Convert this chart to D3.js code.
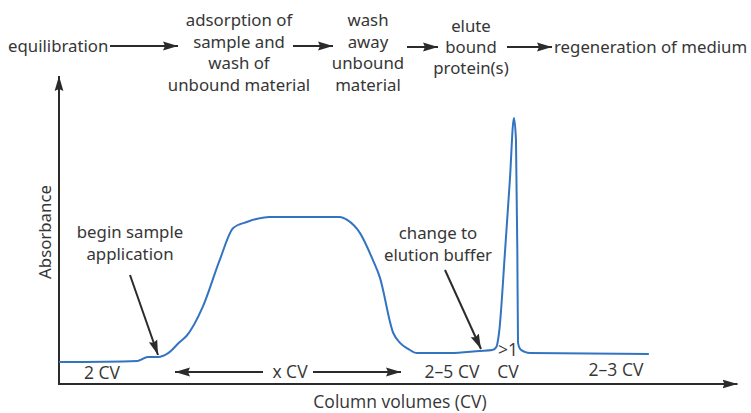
<!DOCTYPE html>
<html>
<head>
<meta charset="utf-8">
<script src="https://cdn.jsdelivr.net/npm/d3@7"></script>
<style>
  html, body { margin: 0; padding: 0; background: #fff; }
  svg { display: block; }
</style>
</head>
<body>
<svg id="chart" width="751" height="413"></svg>
<script>
// Affinity chromatography run: absorbance trace against column volumes (arbitrary 0–100 run position)
const runPosition = [0, 11.6, 13.1, 14.6, 16.1, 17.8, 18.8, 21.2, 23.7, 25.7, 27.7, 31.1, 41.4, 42.5, 44.4, 46.3, 47.3, 49.3, 50.3, 51.5, 52.8, 57.7, 62.1, 63.9, 64.5, 64.9, 65.8, 66.5, 67.1, 67.4, 67.6, 67.7, 68.0, 68.7, 69.5, 87.0];
const absorbance  = [7.3, 7.7, 9.0, 9.0, 10.3, 14.0, 16.0, 25.7, 41.3, 52.0, 54.0, 55.7, 55.7, 54.7, 50.3, 41.3, 35.7, 17.0, 13.7, 11.7, 10.3, 10.3, 11.0, 11.3, 12.3, 17.0, 44.7, 68.0, 88.7, 81.3, 44.7, 13.7, 11.7, 10.7, 10.3, 10.0];

// Process steps along the top
const stepLabels = [
  ["equilibration"],
  ["adsorption of", "sample and", "wash of", "unbound material"],
  ["wash", "away", "unbound", "material"],
  ["elute", "bound", "protein(s)"],
  ["regeneration of medium"]
];
// Volume annotations under the trace
const volumeLabels = ["2 CV", "x CV", "2–5 CV", ">1", "CV", "2–3 CV"];
const eventLabels = [["begin sample", "application"], ["change to", "elution buffer"]];
const axisTitles = { x: "Column volumes (CV)", y: "Absorbance" };

const svg = d3.select("#chart");
const ink = "#2b2b2b";
const textColor = "#363636";
const topFont = "'Noto Sans', Lato, sans-serif";
const topSize = 16.8;
const lowFont = "'Open Sans', 'Noto Sans', sans-serif";
const lowSize = 17.5;

const x = d3.scaleLinear().domain([0, 100]).range([59, 737]);
const y = d3.scaleLinear().domain([0, 100]).range([384, 84]);

// Arrowhead marker
const defs = svg.append("defs");
defs.append("marker")
  .attr("id", "head")
  .attr("viewBox", "0 0 15 10")
  .attr("refX", 15).attr("refY", 5)
  .attr("markerWidth", 15).attr("markerHeight", 10)
  .attr("markerUnits", "userSpaceOnUse")
  .attr("orient", "auto")
  .append("path").attr("d", "M0,0.6 L15,5 L0,9.4 L2,5 Z").attr("fill", ink);

function arrow(x1, y1, x2, y2, w) {
  svg.append("line")
    .attr("x1", x1).attr("y1", y1).attr("x2", x2).attr("y2", y2)
    .attr("stroke", ink).attr("stroke-width", w || 2)
    .attr("marker-end", "url(#head)");
}

function block(lines, cx, ys, anchor, font, size) {
  const t = svg.append("text")
    .attr("font-family", font).attr("font-size", size)
    .attr("fill", textColor).attr("text-anchor", anchor || "middle");
  lines.forEach((s, i) => {
    t.append("tspan").attr("x", cx).attr("y", ys[i]).attr("dy", "0.35em").text(s);
  });
}

// Axes (no ticks), each ending in an arrowhead
arrow(x.range()[0], y(0), x.range()[1] + 0.5, y(0), 2);
arrow(x.range()[0], y(0) + 1, x.range()[0], 76, 2);

// Trace
svg.append("path")
  .datum(runPosition.map((v, i) => [v, absorbance[i]]))
  .attr("fill", "none")
  .attr("stroke", "#3374c2")
  .attr("stroke-width", 2)
  .attr("stroke-linejoin", "round")
  .attr("d", d3.line().x(d => x(d[0])).y(d => y(d[1])).curve(d3.curveMonotoneX));

// Process flow across the top
block(stepLabels[0], 8, [46], "start", topFont, topSize);
arrow(110, 46, 178, 46);
block(stepLabels[1], 239, [20, 42, 63, 85], "middle", topFont, topSize);
arrow(293, 46, 333, 46);
block(stepLabels[2], 368, [20, 42, 63, 85], "middle", topFont, topSize);
arrow(407, 47, 438, 47);
block(stepLabels[3], 471, [26, 47, 68], "middle", topFont, topSize);
arrow(507, 47, 552, 47);
block(stepLabels[4], 554, [47], "start", topFont, topSize);

// Event callouts
block(eventLabels[0], 130, [232, 254], "middle", topFont, topSize);
arrow(130, 275, 158, 355);
block(eventLabels[1], 438, [233, 255], "middle", topFont, topSize);
arrow(445, 270, 481, 349);

// Volume labels
block([volumeLabels[0]], 102, [373], "middle", lowFont, lowSize);
arrow(263, 372, 175, 372);
block([volumeLabels[1]], 290, [372], "middle", lowFont, lowSize);
arrow(313, 372, 401, 372);
block([volumeLabels[2]], 452, [372], "middle", lowFont, lowSize);
block([volumeLabels[3], volumeLabels[4]], 508, [350, 372], "middle", lowFont, lowSize);
block([volumeLabels[5]], 616, [370], "middle", lowFont, lowSize);

// Axis titles
block([axisTitles.x], 400, [402], "middle", lowFont, lowSize);
svg.append("text")
  .attr("transform", "translate(45,232) rotate(-90)")
  .attr("text-anchor", "middle").attr("dy", "0.35em")
  .attr("font-family", topFont).attr("font-size", topSize)
  .attr("fill", textColor)
  .text(axisTitles.y);
</script>
</body>
</html>
